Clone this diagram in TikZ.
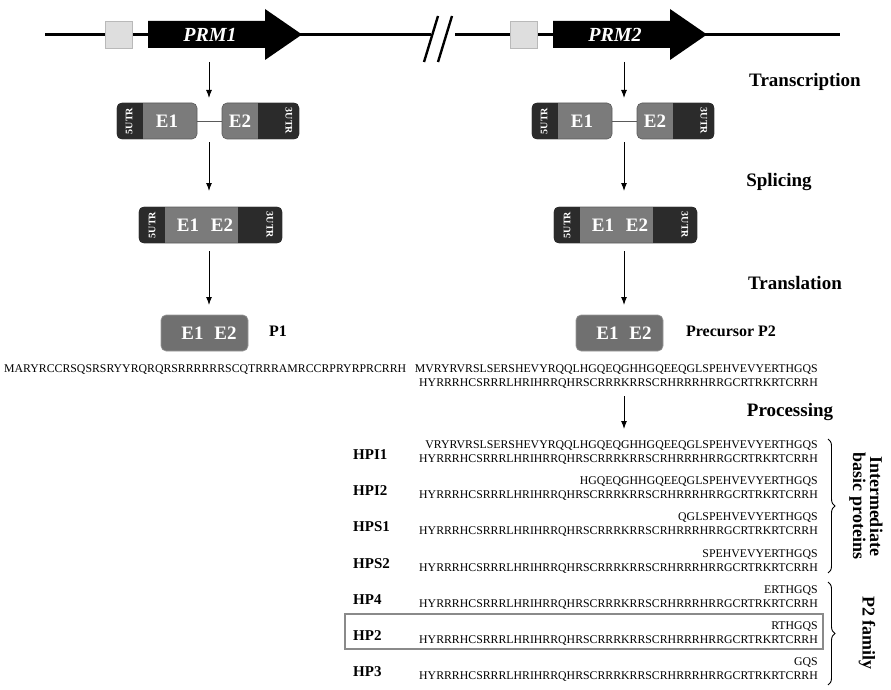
\documentclass[tikz,border=0pt]{standalone}
\usepackage{fontspec}
\setmainfont{Liberation Serif}
\usetikzlibrary{arrows.meta,decorations.pathreplacing}

\definecolor{exongrey}{HTML}{7B7B7B}
\definecolor{utrdark}{HTML}{2B2B2B}
\definecolor{protgrey}{HTML}{707070}
\definecolor{promgrey}{HTML}{DEDEDE}
\definecolor{edgegrey}{HTML}{5A5A5A}
\definecolor{framegrey}{HTML}{8A8A8A}

\newcommand\fs[1]{\fontsize{#1}{#1}\selectfont}

\tikzset{
  dna/.style={line width=2.4pt, black},
  genebody/.style={fill=black},
  promoter/.style={draw=gray!55, fill=promgrey, line width=0.6pt, minimum width=27pt, minimum height=27pt, inner sep=0pt},
  genelbl/.style={text=white, font=\bfseries\itshape\fs{20}, inner sep=0pt},
  exonblk/.style={rectangle, rounded corners=5pt, fill=exongrey, draw=edgegrey, line width=0.6pt, minimum height=36pt, inner sep=0pt},
  protbox/.style={rectangle, rounded corners=5pt, fill=protgrey, draw=gray!80, line width=0.6pt, minimum width=87pt, minimum height=36pt, inner sep=0pt, text=white, font=\bfseries\fs{19}},
  exontxt/.style={text=white, font=\bfseries\fs{19}, inner sep=0pt},
  utrtxt/.style={text=white, font=\bfseries\fs{10}, inner sep=0pt},
  intron/.style={line width=0.9pt, edgegrey},
  arr/.style={line width=1pt, -{Latex[length=8pt,width=6pt]}},
  steplbl/.style={font=\bfseries\fs{19}, inner sep=0pt, anchor=mid},
  protlbl/.style={font=\bfseries\fs{16}, inner sep=0pt, anchor=mid},
  seqtxt/.style={font=\fs{11.8}, inner sep=0pt},
  hplbl/.style={font=\bfseries\fs{15}, inner sep=0pt, anchor=base west},
  brc/.style={decorate, decoration={brace, amplitude=7pt}, line width=0.9pt},
  sidelbl/.style={font=\bfseries\fontsize{18}{17}\selectfont, inner sep=0pt, rotate=-90, align=center},
  hpframe/.style={draw=framegrey, line width=2.6pt}
}

% dark UTR part at the left or right end of a rounded block
\newcommand\utrL[2]{\begin{scope}
  \clip[rounded corners=5pt] (#1.south west) rectangle (#1.north east);
  \fill[utrdark] (#1.south west) rectangle ([xshift=#2]#1.north west);
\end{scope}}
\newcommand\utrR[2]{\begin{scope}
  \clip[rounded corners=5pt] (#1.south west) rectangle (#1.north east);
  \fill[utrdark] ([xshift=-#2]#1.south east) rectangle (#1.north east);
\end{scope}}

% gene on the DNA line: promoter box and the black gene arrow
\newcommand\genedraw[3]{% prefix, x offset, name
  \node[promoter] (#1prom) at (#2+118.5,34.5) {};
  \fill[genebody] (#2+148,21) -- (#2+265,21) -- (#2+265,9) -- (#2+302,34.5)
     -- (#2+265,60) -- (#2+265,48) -- (#2+148,48) -- cycle;
  \node[genelbl] (#1gene) at (#2+210,35) {#3};
}

% transcription, splicing and translation steps of one gene
\newcommand\exprcol[2]{% prefix, x offset
  % pre-mRNA
  \node[exonblk, minimum width=80pt] (#1u1) at (#2+157,121) {};
  \node[exonblk, minimum width=77pt] (#1u2) at (#2+260.5,121) {};
  \draw[intron] (#1u1) -- (#1u2);
  \utrL{#1u1}{26pt}
  \utrR{#1u2}{41pt}
  \node[utrtxt, rotate=90] (#1u1utr) at ([xshift=12.5pt]#1u1.west) {5UTR};
  \node[utrtxt, rotate=-90] (#1u2utr) at ([xshift=-10.5pt]#1u2.east) {3UTR};
  \node[exontxt] (#1u1t) at (#2+167,121) {E1};
  \node[exontxt] (#1u2t) at (#2+240,121) {E2};
  % mature mRNA
  \node[exonblk, minimum width=143pt] (#1sp) at (#2+210.5,225) {};
  \utrL{#1sp}{26pt}
  \utrR{#1sp}{44pt}
  \node[utrtxt, rotate=90] (#1sputr5) at ([xshift=13.5pt]#1sp.west) {5UTR};
  \node[utrtxt, rotate=-90] (#1sputr3) at ([xshift=-12.5pt]#1sp.east) {3UTR};
  \node[exontxt] (#1spa) at (#2+188,225) {E1};
  \node[exontxt] (#1spb) at (#2+222,225) {E2};
  % protein
  \node[protbox] (#1pr) at (#2+204.5,333) {\hspace*{9pt}E1\hspace{11pt}E2};
  % step arrows
  \coordinate (#1a0) at (#2+209,62);
  \coordinate (#1a1) at (#2+209,98);
  \coordinate (#1b0) at (#2+209,142);
  \coordinate (#1b1) at (#2+209,191);
  \coordinate (#1c0) at (#2+209,251);
  \coordinate (#1c1) at (#2+209,305);
  \draw[arr] (#1a0) -- (#1a1);
  \draw[arr] (#1b0) -- (#1b1);
  \draw[arr] (#1c0) -- (#1c1);
}

\newcommand\tailseq{HYRRRHCSRRRLHRIHRRQHRSCRRRKRRSCRHRRRHRRGCRTRKRTCRRH}

\begin{document}
\begin{tikzpicture}[x=1pt,y=-1pt]
\path[use as bounding box] (0,0) rectangle (891,690);

% DNA with the break between the two loci
\coordinate (dnaA) at (45,34.5);
\coordinate (dnaB) at (431,34.5);
\coordinate (dnaC) at (455,34.5);
\coordinate (dnaD) at (840,34.5);
\draw[dna] (dnaA) -- (dnaB);
\draw[dna] (dnaC) -- (dnaD);
\coordinate (brk1a) at (424,62);
\coordinate (brk1b) at (438,16);
\coordinate (brk2a) at (438,62);
\coordinate (brk2b) at (452,16);
\draw[dna] (brk1a) -- (brk1b);
\draw[dna] (brk2a) -- (brk2b);

\genedraw{L}{0}{PRM1}
\genedraw{R}{405}{PRM2}

\exprcol{L}{0}
\exprcol{R}{415}

% step names
\node[steplbl] (tTrans) at (805,84) {Transcription};
\node[steplbl] (tSplice) at (779,184) {Splicing};
\node[steplbl] (tTransl) at (795,287) {Translation};
\node[steplbl] (tProc) at (790,414) {Processing};

\node[protlbl] (tP1) at (278,334.5) {P1};
\node[protlbl] (tP2) at (731,334.5) {Precursor P2};

% protein sequences
\node[seqtxt, anchor=base west] (sP1) at (4,372)
  {MARYRCCRSQSRSRYYRQRQRSRRRRRRSCQTRRRAMRCCRPRYRPRCRRH};
\node[seqtxt, anchor=base east] (sP2a) at (818,372)
  {MVRYRVRSLSERSHEVYRQQLHGQEQGHHGQEEQGLSPEHVEVYERTHGQS};
\node[seqtxt, anchor=base east] (sP2b) at (818,386) {\tailseq};

\coordinate (pA) at (624,396);
\coordinate (pB) at (624,429);
\draw[arr] (pA) -- (pB);

% processed forms
\node[hplbl] (hA) at (353,459) {HPI1};
\node[seqtxt, anchor=base east] (hA1) at (818,448) {VRYRVRSLSERSHEVYRQQLHGQEQGHHGQEEQGLSPEHVEVYERTHGQS};
\node[seqtxt, anchor=base east] (hA2) at (818,462) {\tailseq};

\node[hplbl] (hB) at (353,495) {HPI2};
\node[seqtxt, anchor=base east] (hB1) at (818,484) {HGQEQGHHGQEEQGLSPEHVEVYERTHGQS};
\node[seqtxt, anchor=base east] (hB2) at (818,498) {\tailseq};

\node[hplbl] (hC) at (353,531) {HPS1};
\node[seqtxt, anchor=base east] (hC1) at (818,520) {QGLSPEHVEVYERTHGQS};
\node[seqtxt, anchor=base east] (hC2) at (818,534) {\tailseq};

\node[hplbl] (hD) at (353,568) {HPS2};
\node[seqtxt, anchor=base east] (hD1) at (818,557) {SPEHVEVYERTHGQS};
\node[seqtxt, anchor=base east] (hD2) at (818,571) {\tailseq};

\node[hplbl] (hE) at (353,604) {HP4};
\node[seqtxt, anchor=base east] (hE1) at (818,593) {ERTHGQS};
\node[seqtxt, anchor=base east] (hE2) at (818,607) {\tailseq};

\draw[hpframe] (345,614) rectangle (823,649);
\node[hplbl] (hF) at (353,640) {HP2};
\node[seqtxt, anchor=base east] (hF1) at (818,629) {RTHGQS};
\node[seqtxt, anchor=base east] (hF2) at (818,643) {\tailseq};

\node[hplbl] (hG) at (353,676) {HP3};
\node[seqtxt, anchor=base east] (hG1) at (818,665) {GQS};
\node[seqtxt, anchor=base east] (hG2) at (818,679) {\tailseq};

% groupings
\coordinate (g1a) at (828,439);
\coordinate (g1b) at (828,573);
\coordinate (g2a) at (828,582);
\coordinate (g2b) at (828,685);
\draw[brc] (g1a) -- (g1b);
\draw[brc] (g2a) -- (g2b);
\node[sidelbl] (gIBP) at (866,506) {Intermediate\\basic proteins};
\node[sidelbl] (gP2) at (867,633) {P2 family};
\end{tikzpicture}
\end{document}
